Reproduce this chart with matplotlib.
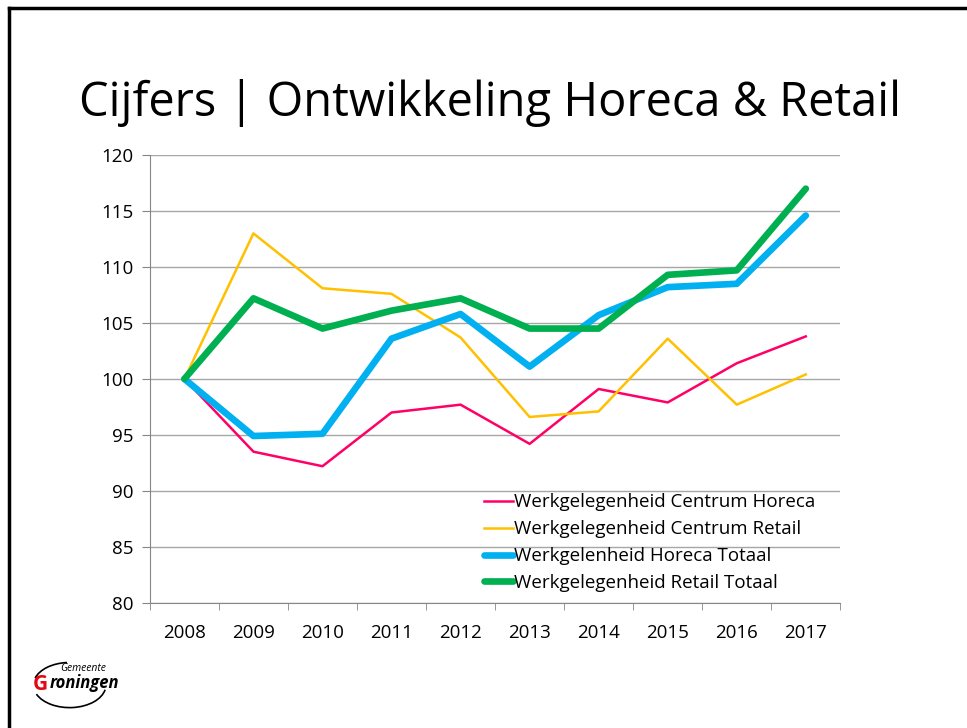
import matplotlib
matplotlib.use("Agg")
import matplotlib.pyplot as plt
from matplotlib.lines import Line2D
from matplotlib.patches import Arc

# -----------------------------
# Data
# -----------------------------
years = ["2008", "2009", "2010", "2011", "2012", "2013", "2014", "2015", "2016", "2017"]
centrum_horeca = [100, 93.5, 92.2, 97.0, 97.7, 94.2, 99.1, 97.9, 101.4, 103.8]
centrum_retail = [100, 113.0, 108.1, 107.6, 103.7, 96.6, 97.1, 103.6, 97.7, 100.4]
horeca_totaal = [100, 94.9, 95.1, 103.6, 105.8, 101.1, 105.7, 108.2, 108.5, 114.6]
retail_totaal = [100, 107.2, 104.5, 106.1, 107.2, 104.5, 104.5, 109.3, 109.7, 117.0]

labels = ["Werkgelegenheid Centrum Horeca",
          "Werkgelegenheid Centrum Retail",
          "Werkgelenheid Horeca Totaal",
          "Werkgelegenheid Retail Totaal"]

plt.rcParams['font.family'] = ['Open Sans', 'DejaVu Sans']

fig = plt.figure(figsize=(9.67, 7.28), dpi=100)

# slide frame (top and left edge)
fig.add_artist(Line2D([0.0095, 1.0], [0.9885, 0.9885], color='black', linewidth=2.5))
fig.add_artist(Line2D([0.0095, 0.0095], [0.0, 0.9885], color='black', linewidth=2.5))

fig.text(0.507, 0.858, "Cijfers | Ontwikkeling Horeca & Retail",
         ha='center', va='center', fontsize=33.8, color='black')

ax = fig.add_axes([0.155, 0.172, 0.714, 0.615])
x = list(range(len(years)))

ax.plot(x, centrum_horeca, color='#FF0066', linewidth=1.8, label=labels[0])
ax.plot(x, centrum_retail, color='#FFC000', linewidth=1.8, label=labels[1])
ax.plot(x, horeca_totaal, color='#00B0F0', linewidth=4.8, label=labels[2],
        solid_capstyle='round', solid_joinstyle='round')
ax.plot(x, retail_totaal, color='#00B050', linewidth=4.8, label=labels[3],
        solid_capstyle='round', solid_joinstyle='round')

ax.set_xlim(-0.5, len(years) - 0.5)
ax.set_ylim(80, 120)
ax.set_yticks(range(80, 121, 5))
ax.set_xticks(x)
ax.set_xticklabels(years)
ax.set_xticks([i - 0.5 for i in range(len(years) + 1)], minor=True)

ax.grid(axis='y', color='#A6A6A6', linewidth=1.0)
ax.set_axisbelow(True)
for side in ['top', 'right']:
    ax.spines[side].set_visible(False)
ax.spines['left'].set_color('#868686')
ax.spines['bottom'].set_color('#868686')

ax.tick_params(axis='y', length=6, color='#868686', labelsize=13.5, pad=6)
ax.tick_params(axis='x', which='major', length=0, labelsize=13.5, pad=15)
ax.tick_params(axis='x', which='minor', length=5, color='#868686')

leg = ax.legend(loc='lower left', bbox_to_anchor=(0.465, -0.005), frameon=False,
                fontsize=13.5, handlelength=1.55, handletextpad=0.05,
                labelspacing=0.47, borderaxespad=0.3)

# logo
fig.add_artist(Arc((0.072, 0.059), 0.075, 0.062, theta1=95, theta2=165,
                   color='black', linewidth=1.2, transform=fig.transFigure))
fig.add_artist(Arc((0.072, 0.059), 0.075, 0.062, theta1=200, theta2=350,
                   color='black', linewidth=1.2, transform=fig.transFigure))
fig.text(0.062, 0.078, "Gemeente", fontsize=7.5, style='italic', color='black')
fig.text(0.034, 0.052, "G", fontsize=15, fontweight='bold', color='#E30613')
fig.text(0.051, 0.055, "roningen", fontsize=12, fontweight='bold', style='italic', color='black')

fig.savefig("out.png", dpi=100)
